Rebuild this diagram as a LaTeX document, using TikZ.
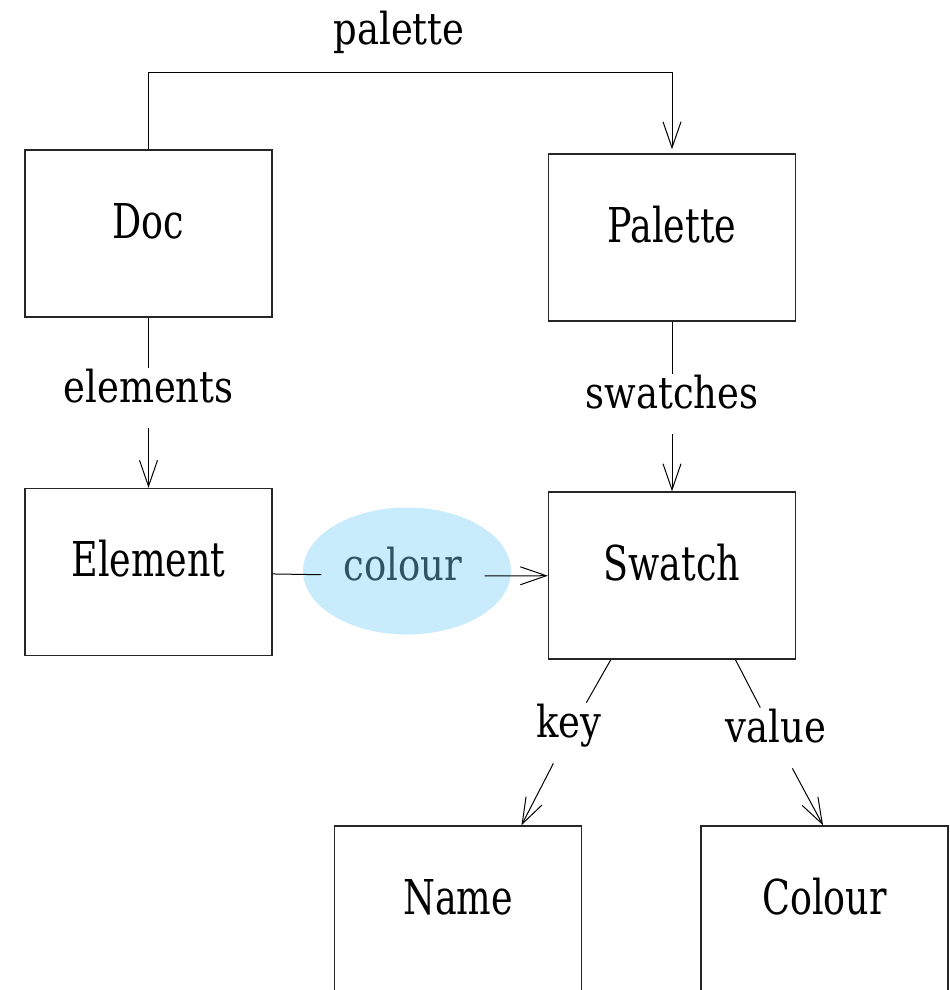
\documentclass[tikz,border=0pt]{standalone}
\usepackage{fontspec}
\usepackage{xcolor}
\usepackage{tikz}
\usetikzlibrary{arrows.meta,shapes.geometric}
\newfontfamily\boxfont{DejaVu Serif}[FakeStretch=0.76]
\newfontfamily\linkfont{DejaVu Serif}[FakeStretch=0.84]
\definecolor{hlblue}{RGB}{200,236,252}
\definecolor{hltext}{RGB}{46,84,99}
\tikzset{
  entity/.style = {draw=black!85, line width=0.7pt, minimum width=123.5pt, minimum height=83.5pt, inner sep=0pt,
                   font=\boxfont\fontsize{24pt}{28pt}\selectfont, text height=17.5pt, text depth=13pt},
  link/.style   = {inner xsep=11pt, inner ysep=0pt, font=\linkfont\fontsize{22pt}{26pt}\selectfont,
                   text height=17pt, text depth=13pt},
  hilite/.style = {ellipse, fill=hlblue, minimum width=104pt, minimum height=63.5pt, inner sep=0pt},
  ref/.style    = {-{Straight Barb[length=13pt,width=9pt]}, line width=0.5pt},
}

\begin{document}
\begin{tikzpicture}[x=0.5pt, y=-0.5pt]
  \useasboundingbox (0,0) rectangle (949,990);
  % highlight behind the colour link
  \node[hilite] (hl) at (407,571) {};

  % classes
  \node[entity] (doc)     at (148.5,233.5) {Doc};
  \node[entity] (palette) at (672,237.5)   {Palette};
  \node[entity] (element) at (148.5,572)   {Element};
  \node[entity] (swatch)  at (672,575.5)   {Swatch};
  \node[entity] (name)    at (458,909.5)   {Name};
  \node[entity] (colour)  at (824.5,909.5) {Colour};

  % link labels
  \node[link] (lpalette)  at (399,41)   {palette};
  \node[link] (lelements) at (148.5,398) {elements};
  \node[link] (lswatches) at (672,404)  {swatches};
  \node[link, text=hltext] (lcolour) at (403,576) {colour};
  \node[link] (lkey)      at (569,733)  {key};
  \node[link] (lvalue)    at (776,738)  {value};

  \coordinate (bend) at (408,73);
  \draw[ref, shorten >=2pt, line join=round] (doc.north) -- (doc.north |- bend) -- (palette.north |- bend) -- (palette.north);
  \draw[ref] (doc) -- (lelements) -- (element);
  \draw[ref] (palette) -- (lswatches) -- (swatch);
  \draw[ref] (element) -- (lcolour) -- (swatch);
  \draw[ref] (swatch.234) -- (lkey) -- (name.53);
  \draw[ref] (swatch.307) -- (lvalue) -- (colour.91);
\end{tikzpicture}
\end{document}
